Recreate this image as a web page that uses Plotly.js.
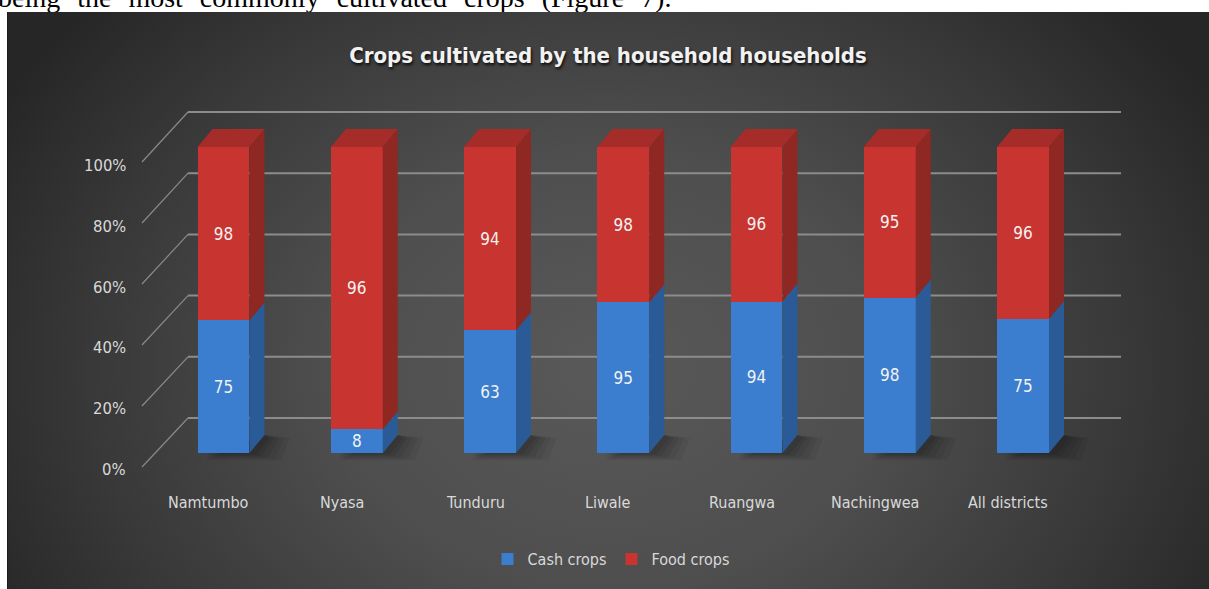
<!DOCTYPE html>
<html>
<head>
<meta charset="utf-8">
<script src="https://cdn.plot.ly/plotly-3.0.1.min.js"></script>
<style>
  html, body { margin: 0; padding: 0; background: #ffffff; width: 1209px; height: 589px; overflow: hidden; }
  #topstrip { position: absolute; left: 0; top: 0; width: 1209px; height: 12px; overflow: hidden; }
  #topstrip span { position: absolute; left: -2px; top: -16px; font-family: "Liberation Serif", "Times New Roman", serif; font-size: 28px; line-height: 28px; color: #000; white-space: nowrap; word-spacing: 10px; }
  #bg { position: absolute; left: 7px; top: 12px; width: 1202px; height: 577px;
        background: radial-gradient(ellipse 58% 95% at 50% 62%, #595959 0%, #4e4e4e 40%, #383838 75%, #262626 100%);
        border-left: 1px solid #1c1c1c; box-sizing: border-box; }
  #chart { position: absolute; left: 0; top: 0; width: 1209px; height: 589px; }
</style>
</head>
<body>
<div id="topstrip"><span>being the most commonly cultivated crops (Figure 7).</span></div>
<div id="bg"></div>
<div id="chart"></div>
<script>
// ---- data ----
const categories = ['Namtumbo', 'Nyasa', 'Tunduru', 'Liwale', 'Ruangwa', 'Nachingwea', 'All districts'];
const cashCrops = [75, 8, 63, 95, 94, 98, 75];
const foodCrops = [98, 96, 94, 98, 96, 95, 96];
const yTicks = [0, 20, 40, 60, 80, 100];
const chartTitle = 'Crops cultivated by the household households';

// ---- geometry (pixel design → axis units) ----
const W = 1209, H = 589;
const x0px = 223.5, stepPx = 133.25;
const yBot = 453, yTop = 147;                 // front face 0% / 100%
const pxPerUnit = (yBot - yTop) / 100;
const yRange = [-12, 125];
const yDomPxBot = yBot + 12 * pxPerUnit, yDomPxTop = yBot - 125 * pxPerUnit;
const xRange = [-x0px / stepPx, (W - x0px) / stepPx];
const barW = 0.39;
const dX = 15 / stepPx, dY = 18 / pxPerUnit;  // bar depth
const backDY = 35 / pxPerUnit;                // back wall offset
const backL = (188 - x0px) / stepPx, backR = (1121 - x0px) / stepPx;
const diagL = (142 - x0px) / stepPx;
const FONT = '"DejaVu Sans Condensed", "Liberation Sans", sans-serif';

const colors = {
  cashFront: '#3b7dce', cashSide: '#2a5b97',
  foodFront: '#c8342f', foodSide: '#8f2723', foodTop: '#a52c28'
};

// normalized shares for the 3D side/top faces
const cashPct = cashCrops.map((c, i) => 100 * c / (c + foodCrops[i]));

function sidePoly(bottoms, tops) {
  const xs = [], ys = [];
  bottoms.forEach((b, i) => {
    const xr = i + barW / 2;
    xs.push(xr, xr + dX, xr + dX, xr, xr, null);
    ys.push(b, b + dY, tops[i] + dY, tops[i], b, null);
  });
  return {x: xs, y: ys};
}
function topPoly(tops) {
  const xs = [], ys = [];
  tops.forEach((t, i) => {
    const xl = i - barW / 2, xr = i + barW / 2;
    xs.push(xl, xl + dX, xr + dX, xr, xl, null);
    ys.push(t, t + dY, t + dY, t, t, null);
  });
  return {x: xs, y: ys};
}
const zeros = cashPct.map(() => 0);
const hundreds = cashPct.map(() => 100);
const cashSide = sidePoly(zeros, cashPct);
const foodSide = sidePoly(cashPct, hundreds);
const foodTop = topPoly(hundreds);

function face(p, color) {
  return {type: 'scatter', x: p.x, y: p.y, xaxis: 'x2', yaxis: 'y', mode: 'lines',
          line: {width: 0, color: color}, fill: 'toself', fillcolor: color,
          showlegend: false, hoverinfo: 'skip'};
}

const barText = {family: FONT, size: 17, color: '#f2f2f2'};
const traces = [
  {type: 'bar', name: 'Cash crops', x: categories, y: cashCrops, text: cashCrops,
   texttemplate: '%{text}', textposition: 'inside', insidetextanchor: 'middle', textangle: 0,
   textfont: barText, width: barW,
   marker: {color: colors.cashFront, line: {width: 0}}, hoverinfo: 'skip'},
  {type: 'bar', name: 'Food crops', x: categories, y: foodCrops, text: foodCrops,
   texttemplate: '%{text}', textposition: 'inside', insidetextanchor: 'middle', textangle: 0,
   textfont: barText, width: barW,
   marker: {color: colors.foodFront, line: {width: 0}}, hoverinfo: 'skip'},
  face(cashSide, colors.cashSide),
  face(foodSide, colors.foodSide),
  face(foodTop, colors.foodTop)
];

const shapes = [];
// soft floor shadows right of each bar (several faint layers)
categories.forEach((c, i) => {
  const xl = i - barW / 2, xr = i + barW / 2;
  [[0.24, -2.4, 0.06], [0.19, -1.9, 0.06], [0.14, -1.4, 0.07], [0.09, -0.9, 0.08], [0.05, -0.5, 0.08]]
    .forEach(([ext, yl, op]) => {
      shapes.push({type: 'path', layer: 'below', xref: 'x2', yref: 'y',
        path: `M ${xl + 0.06} ${yl} L ${xr + ext} ${yl} L ${xr + dX + ext * 0.8} ${dY - 1} L ${xr + dX} ${dY} Z`,
        fillcolor: `rgba(0,0,0,${op})`, line: {width: 0}});
    });
});
// gridlines on back wall + diagonal side-wall lines
yTicks.forEach(v => {
  shapes.push({type: 'line', layer: 'below', xref: 'x2', yref: 'y',
               x0: backL, x1: backR, y0: v + backDY, y1: v + backDY,
               line: {color: '#8c8c8c', width: 2}});
  shapes.push({type: 'line', layer: 'below', xref: 'x2', yref: 'y',
               x0: diagL, x1: backL, y0: (3.05 * v - 14) / 3.06, y1: v + backDY,
               line: {color: '#8a8a8a', width: 1.2}});
});

const annotations = [];
yTicks.forEach(v => {
  annotations.push({xref: 'paper', yref: 'y', x: 128 / W, y: (3.03 * v - 16) / 3.06,
    xanchor: 'right', yanchor: 'middle', showarrow: false, text: v + '%',
    font: {family: FONT, size: 16.5, color: '#d9d9d9'}});
});
categories.forEach((c, i) => {
  annotations.push({xref: 'x2', yref: 'y', x: i, y: 0, yshift: -49, xshift: -15,
    xanchor: 'center', yanchor: 'middle', showarrow: false, text: c,
    font: {family: FONT, size: 16, color: '#d9d9d9'}});
});

const layout = {
  width: W, height: H, autosize: false,
  margin: {l: 0, r: 0, t: 0, b: 0, pad: 0},
  paper_bgcolor: 'rgba(0,0,0,0)', plot_bgcolor: 'rgba(0,0,0,0)',
  barmode: 'stack', barnorm: 'percent',
  uniformtext: {mode: 'show', minsize: 17},
  title: {text: chartTitle, x: 608 / W, xanchor: 'center', y: (H - 55) / H, yanchor: 'middle',
          xref: 'paper', yref: 'paper',
          font: {family: FONT, size: 22, weight: 'bold', color: '#f2f2f2',
                 shadow: '1px 2px 3px rgba(0,0,0,0.85)'}},
  xaxis: {type: 'category', domain: [0, 1], range: xRange, showgrid: false, zeroline: false,
          showline: false, showticklabels: false, ticks: '', fixedrange: true},
  xaxis2: {type: 'linear', overlaying: 'x', anchor: 'y', range: xRange, visible: false,
           showgrid: false, zeroline: false, fixedrange: true},
  yaxis: {domain: [(H - yDomPxBot) / H, (H - yDomPxTop) / H], range: yRange, showgrid: false,
          zeroline: false, showline: false, showticklabels: false, ticks: '', fixedrange: true},
  showlegend: true,
  legend: {orientation: 'h', x: 611 / W, xanchor: 'center', y: (H - 559) / H, yanchor: 'middle',
           font: {family: FONT, size: 16, color: '#d9d9d9'}, bgcolor: 'rgba(0,0,0,0)',
           itemwidth: 30, traceorder: 'normal'},
  shapes: shapes,
  annotations: annotations
};

Plotly.newPlot('chart', traces, layout, {displayModeBar: false, staticPlot: true});
</script>
</body>
</html>
